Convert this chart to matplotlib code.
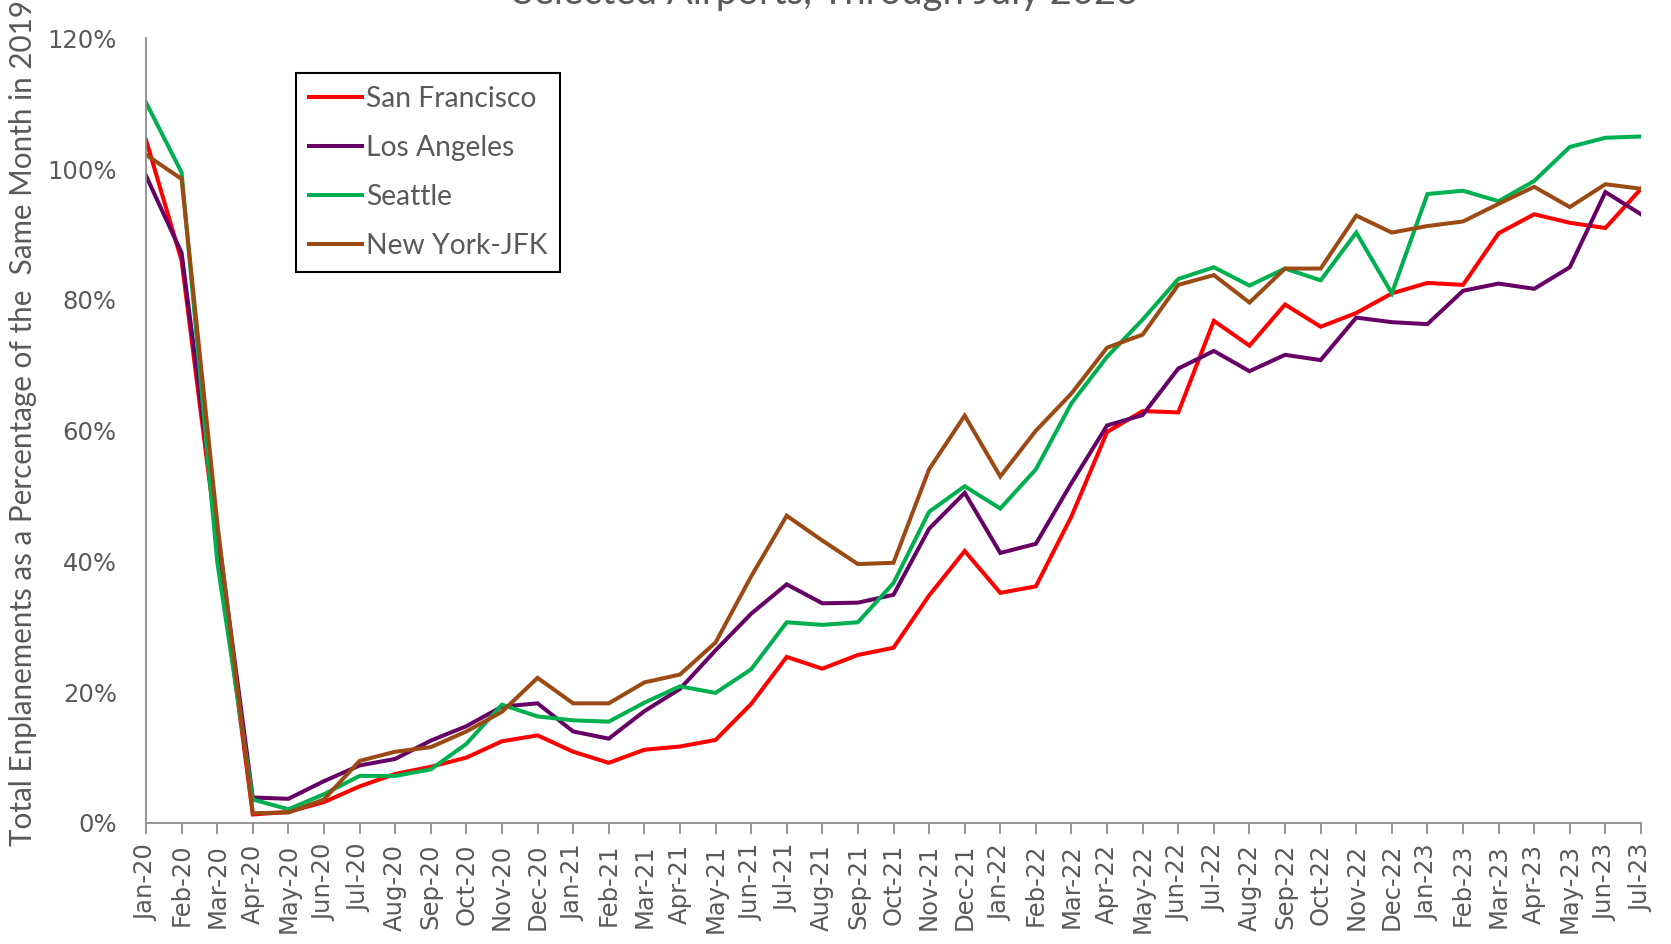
import matplotlib
matplotlib.use("Agg")
from matplotlib import pyplot as plt

months = [
    "Jan-20", "Feb-20", "Mar-20", "Apr-20", "May-20", "Jun-20", "Jul-20", "Aug-20",
    "Sep-20", "Oct-20", "Nov-20", "Dec-20", "Jan-21", "Feb-21", "Mar-21", "Apr-21",
    "May-21", "Jun-21", "Jul-21", "Aug-21", "Sep-21", "Oct-21", "Nov-21", "Dec-21",
    "Jan-22", "Feb-22", "Mar-22", "Apr-22", "May-22", "Jun-22", "Jul-22", "Aug-22",
    "Sep-22", "Oct-22", "Nov-22", "Dec-22", "Jan-23", "Feb-23", "Mar-23", "Apr-23",
    "May-23", "Jun-23", "Jul-23",
]

# percent of same month in 2019
san_francisco = [
    104.5, 86.0, 43.0, 1.3, 1.7, 3.2, 5.6, 7.5, 8.6, 10.0, 12.5, 13.4,
    10.9, 9.2, 11.2, 11.7, 12.7, 18.2, 25.4, 23.6, 25.7, 26.8, 34.8, 41.6,
    35.2, 36.2, 46.9, 59.8, 63.0, 62.8, 76.8, 73.0, 79.3, 75.9, 78.0, 81.0,
    82.6, 82.3, 90.2, 93.1, 91.8, 91.0, 97.0,
]
los_angeles = [
    99.0, 87.2, 45.0, 3.9, 3.7, 6.4, 8.8, 9.8, 12.6, 14.8, 17.8, 18.3,
    14.0, 12.9, 17.1, 20.5, 26.4, 32.0, 36.5, 33.6, 33.7, 34.9, 45.0, 50.5,
    41.3, 42.7, 52.0, 60.8, 62.4, 69.5, 72.2, 69.1, 71.6, 70.8, 77.3, 76.6,
    76.3, 81.4, 82.5, 81.7, 85.0, 96.5, 93.1,
]
seattle = [
    110.2, 99.5, 40.0, 3.6, 2.1, 4.4, 7.2, 7.2, 8.2, 12.1, 18.1, 16.3,
    15.7, 15.5, 18.4, 20.9, 19.9, 23.5, 30.7, 30.3, 30.7, 36.7, 47.6, 51.5,
    48.1, 54.1, 64.2, 71.3, 77.0, 83.2, 85.0, 82.2, 84.8, 83.0, 90.3, 81.0,
    96.2, 96.7, 95.1, 98.2, 103.4, 104.8, 105.0,
]
new_york_jfk = [
    102.2, 98.5, 46.0, 1.5, 1.6, 3.6, 9.5, 10.9, 11.6, 14.0, 17.0, 22.2,
    18.3, 18.3, 21.5, 22.7, 27.6, 37.7, 47.0, 43.2, 39.6, 39.8, 54.1, 62.3,
    53.0, 60.0, 65.7, 72.7, 74.7, 82.3, 83.8, 79.6, 84.8, 84.8, 92.9, 90.3,
    91.3, 92.0, 94.7, 97.3, 94.2, 97.7, 97.0,
]

series = [
    ("San Francisco", san_francisco, "#FF0000"),
    ("Los Angeles", los_angeles, "#660066"),
    ("Seattle", seattle, "#00B050"),
    ("New York-JFK", new_york_jfk, "#9C4A13"),
]

TEXT = "#595959"
AXIS = "#8C8C8C"

W, H = 1671, 944
left, right, top, bottom = 146, 1641, 38.4, 823
aw, ah = right - left, bottom - top

fig = plt.figure(figsize=(W / 100, H / 100), dpi=100)
ax = fig.add_axes([left / W, 1 - bottom / H, aw / W, ah / H])

x = list(range(len(months)))
for name, vals, color in series:
    ax.plot(x, [v / 100 for v in vals], color=color, lw=2.9, label=name,
            solid_joinstyle="miter")

ax.set_xlim(0, len(months) - 1)
ax.set_ylim(0, 1.2)
ax.set_yticks([0, 0.2, 0.4, 0.6, 0.8, 1.0, 1.2])
ax.set_yticklabels(["0%", "20%", "40%", "60%", "80%", "100%", "120%"])
ax.set_xticks(x)
ax.set_xticklabels(months, rotation=90, family="DejaVu Sans")

ax.tick_params(axis="y", length=0, pad=21, labelsize=17.5, labelcolor=TEXT)
ax.tick_params(axis="x", length=8, width=1.3, color=AXIS, pad=7,
               labelsize=17.5, labelcolor=TEXT)
for side in ("top", "right"):
    ax.spines[side].set_visible(False)
for side in ("left", "bottom"):
    ax.spines[side].set_color(AXIS)
    ax.spines[side].set_linewidth(1.3)

ax.set_ylabel("Total Enplanements as a Percentage of the  Same Month in 2019",
              family="Lato", fontsize=21.3, color=TEXT)
ax.yaxis.set_label_coords((37 - left) / aw, (bottom - 423) / ah)

# title sits mostly above the canvas, as in the original crop
fig.text(826 / W, 1 - 4 / H, "Selected Airports, Through July 2023",
         family="Lato", fontsize=27.5, color=TEXT, ha="center", va="baseline")

leg = ax.legend(loc="upper left", bbox_to_anchor=((296 - left) / aw, (bottom - 73) / ah),
                prop={"family": "Lato", "size": 20.3}, frameon=True, fancybox=False,
                handlelength=1.9, handletextpad=0.12, labelspacing=0.82,
                borderpad=0.45, borderaxespad=0)
for t in leg.get_texts():
    t.set_color(TEXT)
frame = leg.get_frame()
frame.set_edgecolor("black")
frame.set_linewidth(1.5)
frame.set_alpha(1)

fig.savefig("out.png", dpi=100)
